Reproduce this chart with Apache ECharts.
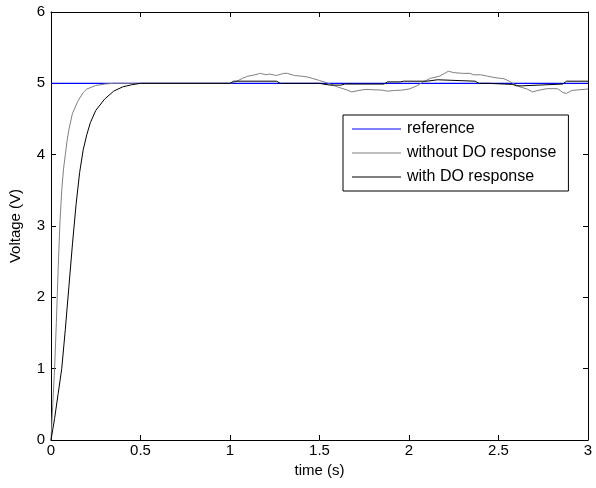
<!DOCTYPE html>
<html>
<head>
<meta charset="utf-8">
<script src="https://cdn.jsdelivr.net/npm/echarts@6/dist/echarts.min.js"></script>
<style>html,body{margin:0;padding:0;background:#fff}#c{width:596px;height:488px}</style>
</head>
<body>
<div id="c"></div>
<script>
const seriesNames = ['reference', 'without DO response', 'with DO response'];
const xTicks = [0, 0.5, 1, 1.5, 2, 2.5, 3];
const yTicks = [0, 1, 2, 3, 4, 5, 6];

const refT = [0, 3];
const refV = [5, 5];

const withoutT = [0, 0.01, 0.02, 0.03, 0.04, 0.05, 0.06, 0.07, 0.08, 0.09, 0.1, 0.12, 0.15, 0.18, 0.2, 0.25, 0.3, 0.35,
  1.0, 1.03, 1.07, 1.1, 1.14, 1.17, 1.2, 1.22, 1.26, 1.3, 1.32, 1.36, 1.4, 1.43, 1.46, 1.5, 1.55, 1.6, 1.65, 1.68, 1.72,
  1.76, 1.8, 1.85, 1.88, 1.92, 1.96, 2.0, 2.04, 2.08, 2.12, 2.17, 2.2, 2.22, 2.25, 2.3, 2.34, 2.36, 2.4, 2.44, 2.48,
  2.53, 2.56, 2.58, 2.62, 2.66, 2.69, 2.72, 2.77, 2.83, 2.86, 2.88, 2.91, 2.95, 3.0];
const withoutV = [0, 0.5, 1.0, 1.65, 2.4, 3.05, 3.5, 3.8, 4.0, 4.2, 4.35, 4.58, 4.75, 4.87, 4.92, 4.97, 4.99, 5.0,
  5.0, 5.02, 5.07, 5.1, 5.12, 5.14, 5.12, 5.13, 5.11, 5.14, 5.14, 5.11, 5.1, 5.09, 5.07, 5.04, 5.0, 4.95, 4.91, 4.88, 4.9,
  4.915, 4.91, 4.905, 4.89, 4.9, 4.905, 4.92, 4.96, 5.02, 5.07, 5.1, 5.14, 5.17, 5.15, 5.14, 5.14, 5.12, 5.12, 5.1, 5.08,
  5.065, 5.03, 5.0, 4.95, 4.92, 4.88, 4.9, 4.925, 4.925, 4.87, 4.86, 4.9, 4.91, 4.92];

const withT = [0, 0.02, 0.04, 0.06, 0.08, 0.1, 0.12, 0.14, 0.16, 0.18, 0.2, 0.22, 0.25, 0.3, 0.35, 0.4, 0.45, 0.5,
  1.0, 1.02, 1.26, 1.28, 1.5, 1.52, 1.56, 1.62, 1.64, 1.86, 1.88, 1.95, 1.97, 2.1, 2.11, 2.16, 2.17, 2.37, 2.39, 2.44,
  2.45, 2.58, 2.6, 2.63, 2.64, 2.86, 2.88, 3.0];
const withV = [0, 0.3, 0.65, 1.0, 1.55, 2.15, 2.75, 3.3, 3.75, 4.07, 4.28, 4.45, 4.62, 4.78, 4.89, 4.95, 4.98, 5.0,
  5.0, 5.03, 5.03, 5.0, 5.0, 4.99, 4.975, 4.975, 4.99, 4.99, 5.02, 5.02, 5.03, 5.03, 5.05, 5.05, 5.03, 5.03, 5.0, 5.0,
  4.985, 4.985, 4.965, 4.965, 4.99, 4.99, 5.03, 5.03];

const zip = (t, v) => t.map((x, i) => [x, v[i]]);
const font = "'Liberation Sans', Arial, Helvetica, sans-serif";

const chart = echarts.init(document.getElementById('c'), null, {renderer: 'canvas'});
const axisCommon = {
  axisLine: {show: true, onZero: false, lineStyle: {color: '#000', width: 1}},
  axisTick: {show: true, inside: true, length: 5, lineStyle: {color: '#000'}},
  splitLine: {show: false}
};
chart.setOption({
  animation: false,
  backgroundColor: '#fff',
  grid: {left: 51, right: 8, top: 12, bottom: 48},
  textStyle: {fontFamily: font},
  xAxis: [
    Object.assign({
      type: 'value', min: xTicks[0], max: xTicks[xTicks.length - 1], interval: 0.5, position: 'bottom',
      name: 'time (s)', nameLocation: 'middle', nameGap: 22,
      nameTextStyle: {color: '#000', fontSize: 15, fontFamily: font},
      axisLabel: {color: '#000', fontSize: 15, fontFamily: font, margin: 3}
    }, axisCommon),
    Object.assign({
      type: 'value', min: xTicks[0], max: xTicks[xTicks.length - 1], interval: 0.5, position: 'top',
      axisLabel: {show: false}
    }, axisCommon)
  ],
  yAxis: [
    Object.assign({
      type: 'value', min: yTicks[0], max: yTicks[yTicks.length - 1], interval: 1, position: 'left',
      name: 'Voltage (V)', nameLocation: 'middle', nameGap: 28,
      nameTextStyle: {color: '#000', fontSize: 15, fontFamily: font},
      axisLabel: {color: '#000', fontSize: 15, fontFamily: font, margin: 6}
    }, axisCommon),
    Object.assign({
      type: 'value', min: yTicks[0], max: yTicks[yTicks.length - 1], interval: 1, position: 'right',
      axisLabel: {show: false}
    }, axisCommon)
  ],
  legend: {
    orient: 'vertical', left: 343, top: 115,
    padding: [6, 12, 6, 9],
    icon: 'rect',
    itemWidth: 49, itemHeight: 1.2, itemGap: 8,
    borderColor: '#000', borderWidth: 1, backgroundColor: '#fff',
    textStyle: {fontSize: 16, lineHeight: 16, color: '#000', fontFamily: font, padding: [0, 0, 0, 1]},
    data: seriesNames
  },
  series: [
    {name: seriesNames[0], type: 'line', data: zip(refT, refV), symbol: 'none', lineStyle: {color: '#0000ff', width: 1.2}, itemStyle: {color: '#0000ff'}},
    {name: seriesNames[1], type: 'line', data: zip(withoutT, withoutV), symbol: 'none', lineStyle: {color: '#808080', width: 1}, itemStyle: {color: '#808080'}},
    {name: seriesNames[2], type: 'line', data: zip(withT, withV), symbol: 'none', lineStyle: {color: '#000000', width: 1}, itemStyle: {color: '#000000'}}
  ]
});
</script>
</body>
</html>
